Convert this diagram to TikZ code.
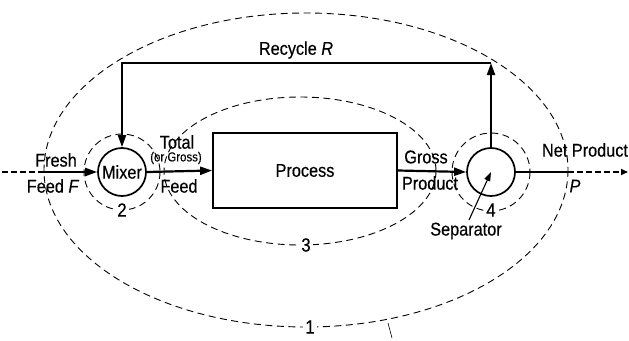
\documentclass[tikz,border=0pt]{standalone}
\usepackage{fontspec}
\setmainfont[FakeStretch=0.88,FakeBold=0.4]{Liberation Sans}
\usetikzlibrary{arrows.meta}
\begin{document}
\begin{tikzpicture}[x=1pt,y=-1pt,
  flow/.style={line width=2.2pt,-{Triangle[length=12pt,width=8pt]}},
  thickline/.style={line width=2.2pt},
  thickdash/.style={line width=2pt,dash pattern=on 6pt off 3pt},
  bound/.style={line width=0.9pt,dash pattern=on 7pt off 4.5pt},
  lbl/.style={font=\fontsize{18.5}{19}\selectfont,inner sep=0pt},
  smalllbl/.style={font=\fontsize{13}{14}\selectfont,inner sep=0pt},
  numlbl/.style={font=\fontsize{19}{20}\selectfont,fill=white,inner sep=2pt},
  unit/.style={circle,draw,line width=1.7pt,minimum size=48pt,inner sep=0pt,font=\fontsize{18.5}{19}\selectfont},
  boxunit/.style={draw,line width=1.7pt,minimum width=184pt,minimum height=75pt,inner sep=0pt,font=\fontsize{18.5}{19}\selectfont}
]
\useasboundingbox (0,0) rectangle (629,340);

% system boundaries
\draw[bound] (306,170) ellipse [x radius=262, y radius=157];
\draw[bound] (300,171) ellipse [x radius=136, y radius=74];
\draw[bound] (122,172) circle [radius=38];
\draw[bound] (491,172) circle [radius=39];
\node[numlbl] (n1) at (310,327) {1};
\node[numlbl] (n3) at (306,245) {3};
\node[numlbl] (n2) at (122,210) {2};
\node[numlbl] (n4) at (491,210) {4};
\coordinate (t1) at (388,323);
\coordinate (t2) at (392,338);
\draw[line width=0.6pt] (t1) -- (t2);

% units
\node[unit,fill=white] (mixer) at (122,172) {Mixer};
\node[unit,fill=white] (sep) at (491,172) {};
\node[boxunit,fill=white] (proc) at (305,170.5) {Process};

% fresh feed
\coordinate (fin) at (2,172);
\coordinate (fsolid) at (43,172);
\draw[thickdash] (fin) -- (fsolid);
\draw[flow] (fsolid) -- (mixer.west);
\node[lbl] (fresh) at (56,160) {Fresh};
\node[lbl] (feedF) at (53,186) {Feed \textit{F}};

% total feed
\draw[flow] (mixer.east) -- (proc.west);
\node[lbl] (total) at (177,142) {Total};
\node[smalllbl] (orgross) at (176,158) {(or Gross)};
\node[lbl] (feed) at (179,186) {Feed};

% gross product
\draw[flow] (proc.east) -- (sep.west);
\node[lbl] (gross) at (426,157) {Gross};
\node[lbl] (product) at (430,183) {Product};

% recycle
\coordinate (rtop) at (491,63);
\coordinate (ltop) at (122,63);
\draw[line width=2pt,-{Triangle[length=12pt,width=8pt]}] (sep.north) -- (rtop);
\draw[line width=2pt,-{Triangle[length=12pt,width=8pt]}] (rtop) -- (ltop) -- (mixer.north);
\node[lbl] (recycle) at (296,50) {Recycle \textit{R}};

% net product
\coordinate (npmid) at (568,172);
\coordinate (npend) at (628,172);
\draw[thickline] (sep.east) -- (npmid);
\draw[line width=1.6pt,dash pattern=on 6pt off 3pt,-{Triangle[length=7pt,width=6pt]}] (npmid) -- (npend);
\node[lbl] (netprod) at (585,150) {Net Product};
\node[lbl] (P) at (575,186) {\textit{P}};

% separator label
\node[lbl] (seplbl) at (466,231) {Separator};
\coordinate (sepfrom) at (469,220);
\draw[line width=1.1pt,-{Triangle[length=9pt,width=6pt]}] (sepfrom) -- (sep.center);
\end{tikzpicture}
\end{document}
